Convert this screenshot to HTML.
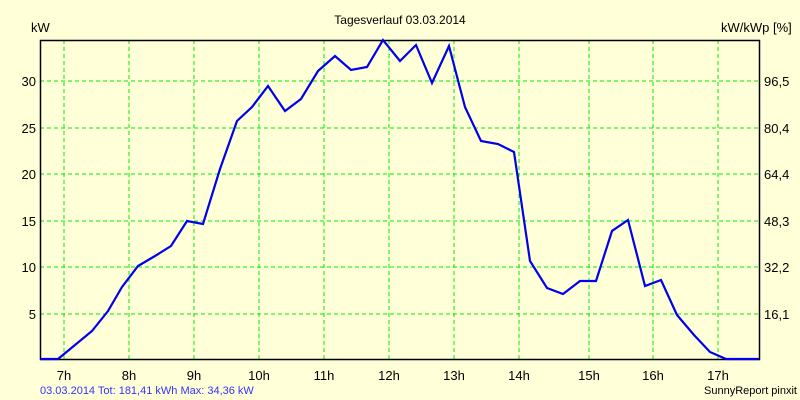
<!DOCTYPE html>
<html><head><meta charset="utf-8"><style>
body{margin:0;background:#ffffd8;}
svg{display:block;font-family:"Liberation Sans",sans-serif;}
</style></head><body>
<svg width="800" height="400" xmlns="http://www.w3.org/2000/svg">
<rect width="800" height="400" fill="#ffffd8"/>
<g stroke="#00ee00" stroke-width="1" stroke-dasharray="4,3">
<line x1="64" y1="40" x2="64" y2="359"/><line x1="129" y1="40" x2="129" y2="359"/><line x1="194" y1="40" x2="194" y2="359"/><line x1="259" y1="40" x2="259" y2="359"/><line x1="324" y1="40" x2="324" y2="359"/><line x1="389" y1="40" x2="389" y2="359"/><line x1="454" y1="40" x2="454" y2="359"/><line x1="519" y1="40" x2="519" y2="359"/><line x1="589" y1="40" x2="589" y2="359"/><line x1="653" y1="40" x2="653" y2="359"/><line x1="718" y1="40" x2="718" y2="359"/>
<line x1="40" y1="81" x2="759" y2="81"/><line x1="40" y1="128" x2="759" y2="128"/><line x1="40" y1="174" x2="759" y2="174"/><line x1="40" y1="221" x2="759" y2="221"/><line x1="40" y1="267" x2="759" y2="267"/><line x1="40" y1="314" x2="759" y2="314"/>
</g>
<rect x="40.5" y="40.5" width="719" height="319" fill="none" stroke="#000" stroke-width="1.5"/>
<polyline fill="none" stroke="#0000ee" stroke-width="2.2" points="40,359 58,359 75,345 92,331 108,311 122,287 138,266 155,256 171,246 187,221 203,224 220,169 237,121 252,107 268,86 285,111 301,99 318,71 335,56 351,70 367,67 383,40 400,61 416,45 432,83 449,46 465,107 481,141 498,144 514,152 530,261 547,288 563,294 580,281 596,281 612,231 628,220 645,286 661,280 677,315 694,335 710,352 726,359 759,359"/>
<g font-size="13" fill="#000">
<text x="400" y="24" text-anchor="middle" font-size="12">Tagesverlauf 03.03.2014</text>
<text x="31" y="32">kW</text>
<text x="721" y="32">kW/kWp [%]</text>
<g text-anchor="end"><text x="36" y="86">30</text><text x="36" y="133">25</text><text x="36" y="179">20</text><text x="36" y="226">15</text><text x="36" y="272">10</text><text x="36" y="319">5</text></g>
<g><text x="764" y="86">96,5</text><text x="764" y="133">80,4</text><text x="764" y="179">64,4</text><text x="764" y="226">48,3</text><text x="764" y="272">32,2</text><text x="764" y="319">16,1</text></g>
<g text-anchor="middle"><text x="64" y="380">7h</text><text x="129" y="380">8h</text><text x="194" y="380">9h</text><text x="259" y="380">10h</text><text x="324" y="380">11h</text><text x="389" y="380">12h</text><text x="454" y="380">13h</text><text x="519" y="380">14h</text><text x="589" y="380">15h</text><text x="653" y="380">16h</text><text x="718" y="380">17h</text></g>
<text x="40" y="394" font-size="11" fill="#3333ff">03.03.2014 Tot: 181,41 kWh Max: 34,36 kW</text>
<text x="797" y="394" font-size="11" text-anchor="end">SunnyReport pinxit</text>
</g>
</svg>
</body></html>
